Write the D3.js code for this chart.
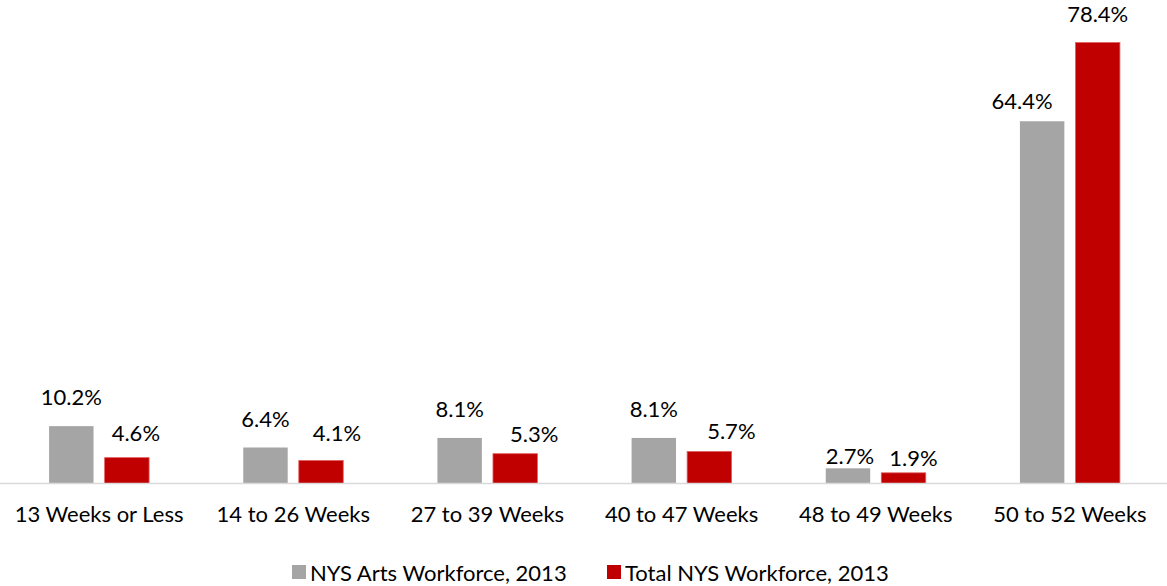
<!DOCTYPE html>
<html><head><meta charset="utf-8">
<script src="https://cdn.jsdelivr.net/npm/d3@7"></script>
<style>body{margin:0;background:#fff}svg{display:block}text{font-family:Lato,"Open Sans",sans-serif;fill:#000}</style>
</head><body><svg id="c" width="1167" height="586"></svg>
<script>
const categories = ["13 Weeks or Less","14 to 26 Weeks","27 to 39 Weeks","40 to 47 Weeks","48 to 49 Weeks","50 to 52 Weeks"];
const seriesNames = ["NYS Arts Workforce, 2013","Total NYS Workforce, 2013"];
const artsValues = [10.2,6.4,8.1,8.1,2.7,64.4];
const totalValues = [4.6,4.1,5.3,5.7,1.9,78.4];
const colors = ["#A5A5A5","#C00000"];
// label nudges (dx, dy) relative to default placement, per series / category
const labelNudgeArts = [[0,0],[0,0],[0,0],[0,0],[2,17],[-20,9]];
const labelNudgeTotal = [[9,4],[16,1.5],[19,9],[22,9],[10,14],[0,0]];

const svg = d3.select("#c");
const FONT = "22px";
const baseY = 483.5;
const y = d3.scaleLinear().domain([0,78.4]).range([baseY, 42.5]);
const x0 = d3.scaleBand().domain(categories).range([2,1167]).paddingInner(0).paddingOuter(0);
const x1 = d3.scaleBand().domain([0,1]).range([x0.bandwidth()/2-50, x0.bandwidth()/2+50]).paddingInner(0.2).paddingOuter(0);

const nudges = [labelNudgeArts, labelNudgeTotal];
const data = categories.map((c,i)=>({c, vals:[artsValues[i], totalValues[i]].map((v,k)=>({v,k,n:nudges[k][i]}))}));

const g = svg.selectAll("g.cat").data(data).join("g").attr("class","cat")
  .attr("transform", d=>`translate(${x0(d.c)},0)`);
g.selectAll("rect").data(d=>d.vals).join("rect")
  .attr("x", d=>x1(d.k)).attr("width", x1.bandwidth())
  .attr("y", d=>y(d.v)).attr("height", d=>baseY - y(d.v))
  .attr("fill", d=>colors[d.k])
  .attr("stroke", d=>d.k===1?"#E06060":"none").attr("stroke-width",0.8);
g.selectAll("text.val").data(d=>d.vals).join("text").attr("class","val")
  .attr("x", d=>x1(d.k)+x1.bandwidth()/2 + d.n[0]).attr("y", d=>y(d.v)-21 + d.n[1])
  .attr("text-anchor","middle").attr("font-size",FONT)
  .text(d=>d.v.toFixed(1)+"%");

const axis = d3.axisBottom(x0).tickSize(0).tickPadding(0);
const ax = svg.append("g").attr("transform",`translate(0,${baseY})`).call(axis);
ax.select(".domain").attr("stroke","#D9D9D9").attr("stroke-width",1.5).attr("d","M0,0H1167");
ax.selectAll(".tick text").attr("font-family","Lato,'Open Sans',sans-serif").attr("font-size",FONT).attr("fill","#000").attr("dy","0").attr("y",38.5);

const leg = svg.append("g");
const legX = [292, 607];
seriesNames.forEach((n,i)=>{
  leg.append("rect").attr("x",legX[i]).attr("y",565).attr("width",14).attr("height",14).attr("fill",colors[i]);
  leg.append("text").attr("x",legX[i]+18).attr("y",581).attr("font-size",FONT).text(n);
});
</script></body></html>
